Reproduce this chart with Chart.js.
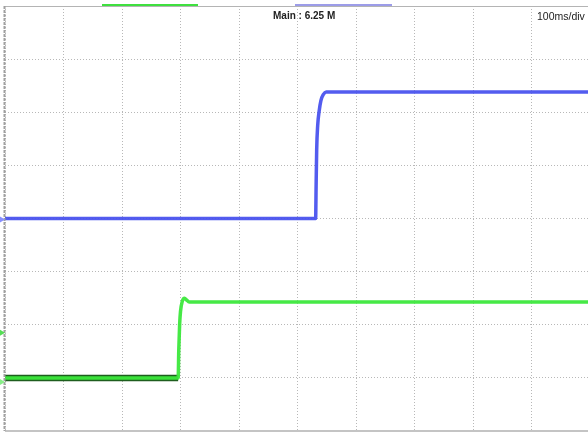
<!DOCTYPE html>
<html>
<head>
<meta charset="utf-8">
<script src="https://cdn.jsdelivr.net/npm/chart.js@4.4.1/dist/chart.umd.min.js"></script>
<style>
  html, body { margin: 0; padding: 0; background: #fff; overflow: hidden; }
  #wrap { width: 588px; height: 434px; overflow: hidden; }
</style>
</head>
<body>
<div id="wrap"><canvas id="scope" width="592" height="434"></canvas></div>
<script>
// time in divisions (100ms/div), level in divisions
const blueX = [0, 5.31, 5.318, 5.328, 5.345, 5.37, 5.40, 5.44, 5.49, 5.55, 10];
const blueY = [0, 0, 0.6, 1.3, 1.75, 2.02, 2.22, 2.33, 2.38, 2.38, 2.38];

const greenX = [0, 2.96, 2.97, 2.985, 3.0, 3.03, 3.07, 3.1, 3.15, 10];
const greenY = [-3.0, -3.0, -2.5, -2.0, -1.75, -1.56, -1.50, -1.53, -1.57, -1.57];

const xTicks = [0, 1, 2, 3, 4, 5, 6, 7, 8, 9, 10];
const yTicks = [-4, -3, -2, -1, 0, 1, 2, 3, 4];

const toPoints = (xs, ys) => xs.map((x, i) => ({ x, y: ys[i] }));

// frame, header text and channel markers
const scopeDecor = {
  id: "scopeDecor",
  afterDraw(chart) {
    const { ctx, chartArea: a, scales } = chart;
    ctx.save();
    // top border
    ctx.strokeStyle = "#b4b4b4";
    ctx.lineWidth = 1;
    ctx.beginPath();
    ctx.moveTo(a.left, a.top + 0.5);
    ctx.lineTo(a.right, a.top + 0.5);
    ctx.stroke();
    // bottom border
    ctx.strokeStyle = "#c4c4c4";
    ctx.lineWidth = 2;
    ctx.beginPath();
    ctx.moveTo(a.left, a.bottom);
    ctx.lineTo(a.right, a.bottom);
    ctx.stroke();
    // left border (dashed)
    ctx.strokeStyle = "#a0a0a0";
    ctx.lineWidth = 2;
    ctx.setLineDash([3, 1]);
    ctx.beginPath();
    ctx.moveTo(a.left - 0.5, a.top);
    ctx.lineTo(a.left - 0.5, a.bottom);
    ctx.stroke();
    ctx.setLineDash([]);

    // channel bars on top
    ctx.fillStyle = "#3fe03f";
    ctx.fillRect(102, 4, 96, 2);
    ctx.fillStyle = "#9c9ce8";
    ctx.fillRect(295, 4, 97, 2);

    // header text
    ctx.fillStyle = "#222";
    ctx.font = "bold 10px 'Liberation Sans', Arial, sans-serif";
    ctx.textBaseline = "alphabetic";
    ctx.fillText("Main : 6.25 M", 273, 19);
    ctx.font = "10.5px 'Liberation Sans', Arial, sans-serif";
    ctx.fillText("100ms/div", 537, 20);

    // ground markers
    const y = scales.y;
    const tri = (yy, color) => {
      ctx.fillStyle = color;
      ctx.beginPath();
      ctx.moveTo(0, yy - 3);
      ctx.lineTo(5, yy);
      ctx.lineTo(0, yy + 3);
      ctx.closePath();
      ctx.fill();
    };
    tri(y.getPixelForValue(blueY[0]) + 1, "#8890ff");
    tri(y.getPixelForValue(-2.15), "#55dd55");
    tri(y.getPixelForValue(greenY[0]) + 4, "#88ee88");
    ctx.restore();
  }
};

new Chart(document.getElementById("scope").getContext("2d"), {
  type: "scatter",
  data: {
    datasets: [
      {
        label: "CH1",
        data: toPoints(blueX, blueY),
        showLine: true,
        borderColor: "rgba(68,78,238,0.92)",
        borderWidth: 3.5,
        pointRadius: 0,
        cubicInterpolationMode: "monotone",
        order: 1
      },
      {
        label: "CH2",
        data: toPoints(greenX, greenY),
        showLine: true,
        borderColor: "rgba(60,232,60,0.95)",
        borderWidth: 3.5,
        pointRadius: 0,
        cubicInterpolationMode: "monotone",
        order: 2
      },
      {
        label: "CH2 low edge",
        data: toPoints(greenX.slice(0, 2), greenY.slice(0, 2)),
        showLine: true,
        borderColor: "#1e5e1e",
        borderWidth: 6.5,
        pointRadius: 0,
        order: 3
      }
    ]
  },
  options: {
    responsive: false,
    animation: false,
    layout: { padding: { left: 5, top: 6, right: 2, bottom: 3 } },
    plugins: {
      legend: { display: false },
      tooltip: { enabled: false }
    },
    scales: {
      x: {
        type: "linear",
        min: 0,
        max: 10,
        afterBuildTicks: axis => { axis.ticks = xTicks.map(v => ({ value: v })); },
        ticks: { display: false },
        border: { display: false, dash: [1, 2] },
        grid: { color: "#b8b8b8", lineWidth: 1, drawTicks: false }
      },
      y: {
        type: "linear",
        min: -4,
        max: 4,
        afterBuildTicks: axis => { axis.ticks = yTicks.map(v => ({ value: v })); },
        ticks: { display: false },
        border: { display: false, dash: [1, 2] },
        grid: { color: "#b8b8b8", lineWidth: 1, drawTicks: false }
      }
    }
  },
  plugins: [scopeDecor]
});
</script>
</body>
</html>
